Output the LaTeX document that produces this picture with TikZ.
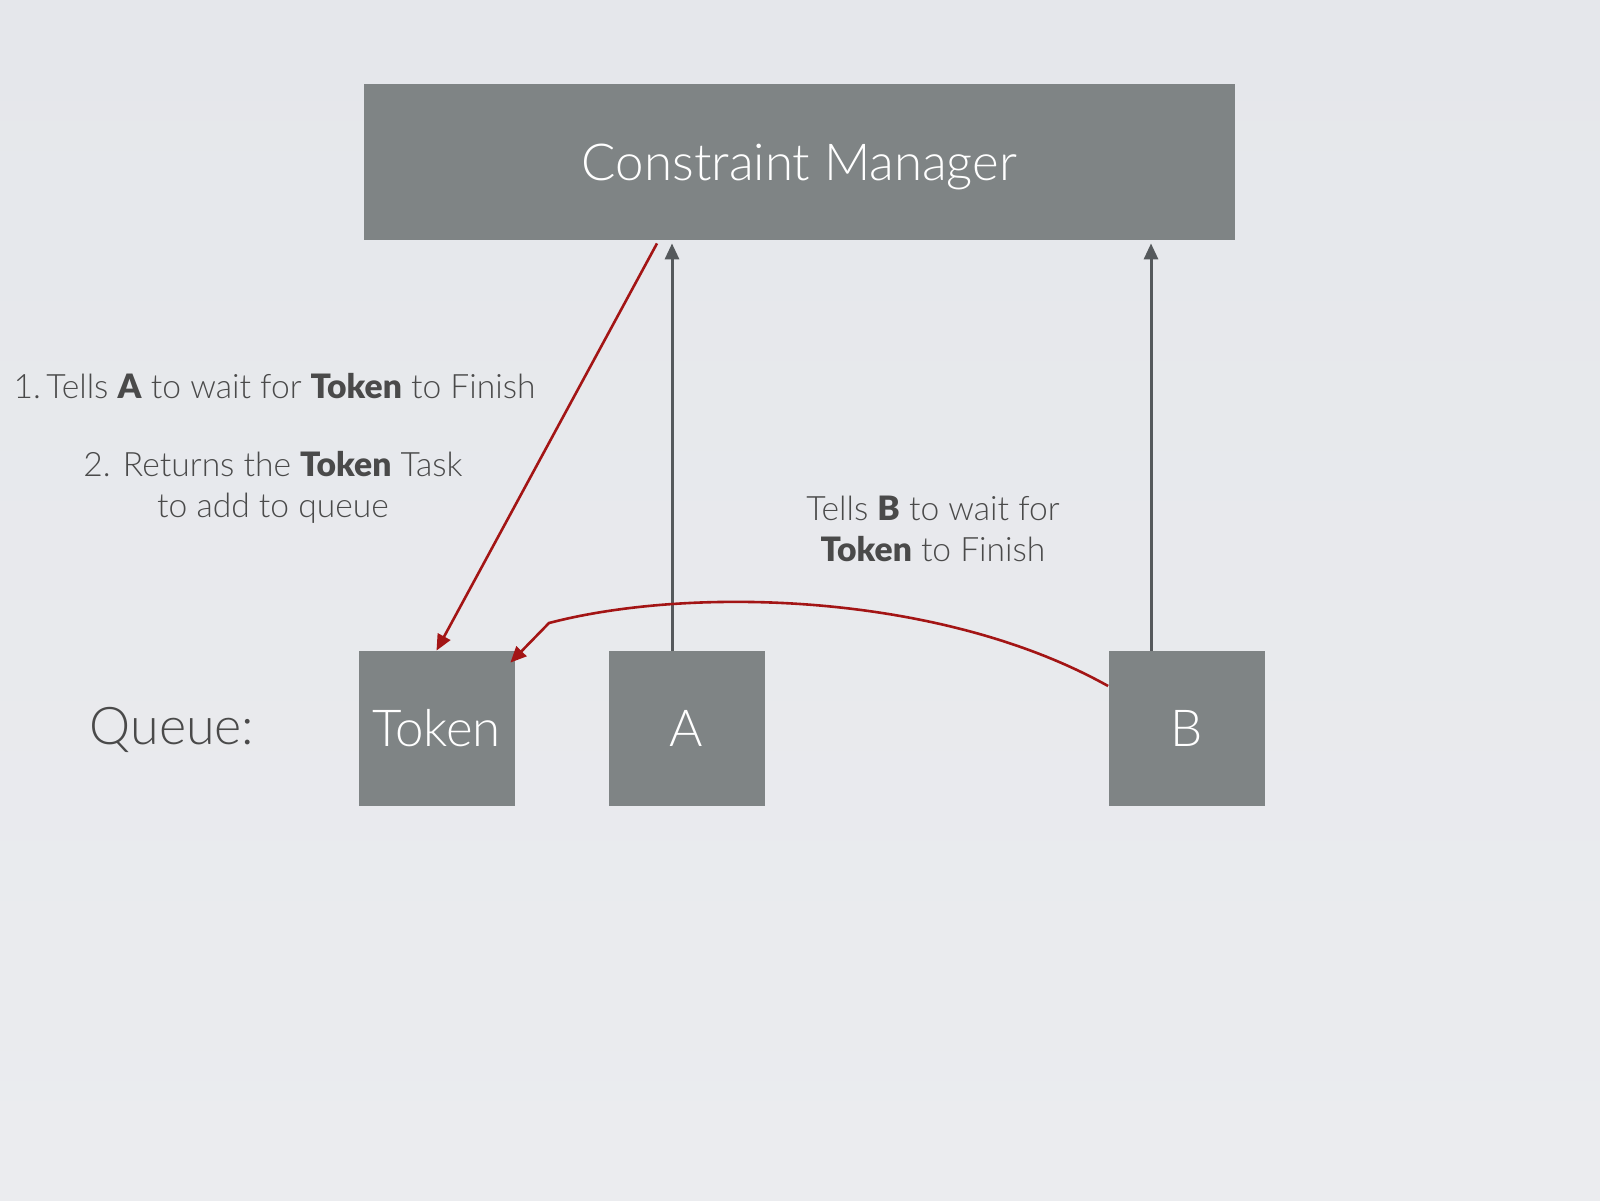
\documentclass[tikz,border=0pt]{standalone}
\usepackage{fontspec}
\IfFontExistsTF{Lato Light}{\def\mainface{Lato Light}}{\def\mainface{Lato}}
\IfFontExistsTF{Lato Black}{\def\heavyface{Lato Black}}{\def\heavyface{Lato Bold}}
\setmainfont{\mainface}[BoldFont=\heavyface]
\usetikzlibrary{arrows.meta}
\definecolor{boxgray}{HTML}{7F8485}
\definecolor{linegray}{HTML}{55595C}
\definecolor{txtgray}{HTML}{4A4A4A}
\definecolor{arrred}{HTML}{A31515}
\definecolor{bgtop}{HTML}{E5E7EB}
\definecolor{bgmid}{HTML}{F7F8FA}
\definecolor{bgbot}{HTML}{EBECEF}
\begin{document}
\begin{tikzpicture}[x=0.5pt,y=-0.5pt,
  bigbox/.style={fill=boxgray, text=white, inner sep=0pt, text depth=0pt,
    minimum width=435.5pt, minimum height=78pt,
    font=\fontsize{25.5}{30}\selectfont},
  qbox/.style={fill=boxgray, text=white, inner sep=0pt,
    minimum width=78pt, minimum height=77.5pt,
    font=\fontsize{25.5}{30}\selectfont},
  lbl/.style={text=txtgray, inner sep=0pt, align=center,
    font=\fontsize{16.8}{20.5}\selectfont},
  qlbl/.style={text=txtgray, inner sep=0pt,
    font=\fontsize{26}{30}\selectfont},
  grayarrow/.style={draw=linegray, line width=1.5pt,
    -{Triangle[length=8pt,width=7pt]}},
  redarrow/.style={draw=arrred, line width=1.3pt,
    -{Triangle[length=8pt,width=7pt]}}]

% background
\shade[top color=bgtop, middle color=bgmid, bottom color=bgbot]
  (0,0) rectangle (1600,1200);
\useasboundingbox (0,0) rectangle (1600,1200);

% boxes
\node[bigbox] (cm) at (799.5,162) {Constraint Manager};
\node[qbox] (tok) at (436.5,728.5) {Token};
\node[qbox] (a) at (686.5,728.5) {A};
\node[qbox] (b) at (1186.5,728.5) {B};
\node[qlbl] (q) at (172,730) {Queue:};

% labels
\node[lbl] (l1) at (274.5,386)
  {1.\,Tells \textbf{A} to wait for \textbf{Token} to Finish};
\node[lbl] (l2) at (273,487.5)
  {2. Returns the \textbf{Token} Task\\to add to queue};
\node[lbl] (l3) at (933,528.5)
  {Tells \textbf{B} to wait for\\\textbf{Token} to Finish};

% task -> manager
\draw[grayarrow] ([xshift=-7.25pt]a.north) -- ([xshift=-7.25pt,yshift=-1.5pt]a.north |- cm.south);
\draw[grayarrow] ([xshift=-17.75pt]b.north) -- ([xshift=-17.75pt,yshift=-1.5pt]b.north |- cm.south);

% manager -> token
\draw[redarrow] ([xshift=-71.25pt,yshift=-1.5pt]cm.south) -- (tok.north);

% B -> token
\draw[redarrow] ([yshift=21.25pt]b.west)
  .. controls (940,592) and (690,586) .. (549,623)
  -- ([xshift=-2.25pt,yshift=-6pt]tok.north east);
\end{tikzpicture}
\end{document}
